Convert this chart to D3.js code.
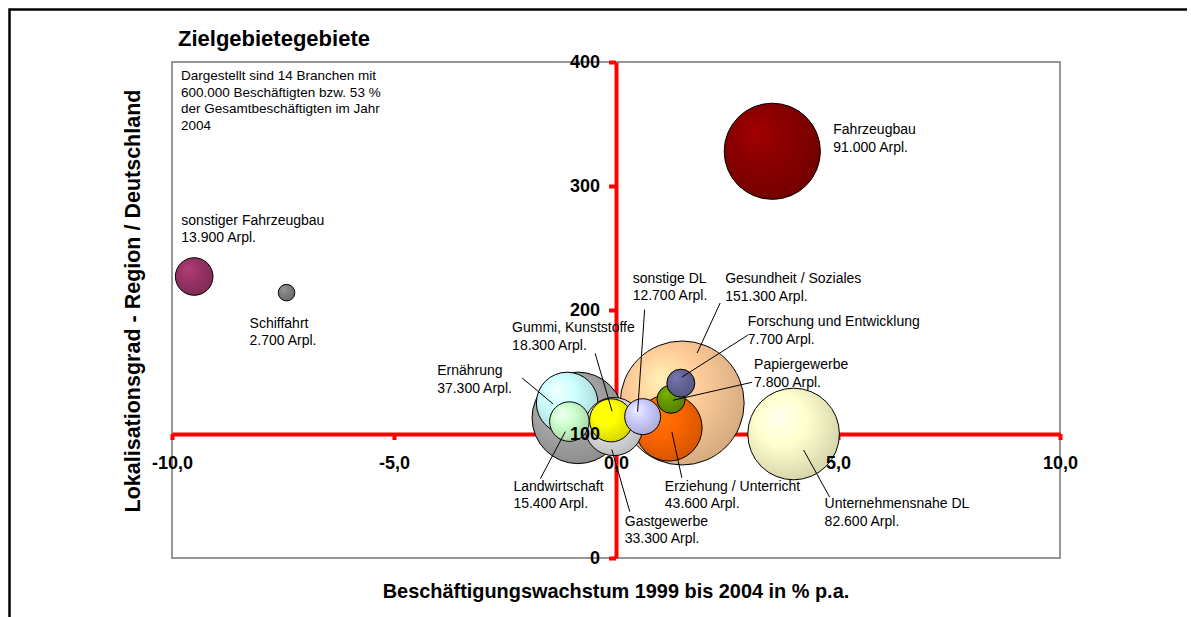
<!DOCTYPE html>
<html>
<head>
<meta charset="utf-8">
<script src="https://cdn.jsdelivr.net/npm/d3@7"></script>
<style>
  body { margin: 0; background: #fff; }
  svg { display: block; font-family: "Liberation Sans", Arial, sans-serif; }
</style>
</head>
<body>
<div id="chart"></div>
<script>
// Bubble chart - Zielgebiete

// data: 14 Branchen
var branchen = ["Fahrzeugbau", "sonstiger Fahrzeugbau", "Schiffahrt", "sonstige DL", "Gesundheit / Soziales",
  "Forschung und Entwicklung", "Papiergewerbe", "Gummi, Kunststoffe", "Ernährung", "Erziehung / Unterricht",
  "Unternehmensnahe DL", "Landwirtschaft", "Gastgewerbe", ""];
var wachstum = [3.52, -9.50, -7.42, 0.60, 1.49, 1.46, 1.24, -0.11, -1.10, 1.19, 4.00, -1.05, -0.05, -0.86];
var lokalisation = [328, 227, 214, 114, 125, 141, 128, 111, 125, 105, 100, 110, 106, 113];
var arbeitsplaetze = [91000, 13900, 2700, 12700, 151300, 7700, 7800, 18300, 37300, 43600, 82600, 15400, 33300, 82400];

var xTicks = [-10, -5, 0, 5, 10];
var yTicks = [0, 100, 200, 300, 400];

var titel = "Zielgebietegebiete";
var hinweis = ["Dargestellt sind 14 Branchen mit", "600.000 Beschäftigten bzw. 53 %", "der Gesamtbeschäftigten im Jahr", "2004"];
var xTitel = "Beschäftigungswachstum 1999 bis 2004 in % p.a.";
var yTitel = "Lokalisationsgrad - Region / Deutschland";

// colours, same order as branchen
var farben = ["#8b0000", "#993366", "#808080", "#ccccff", "#ffcc99", "#666699", "#669900", "#ffff00",
  "#ccffff", "#ff6600", "#ffffcc", "#ccffcc", "#e2e2e2", "#a8a8a8"];

// label placement, offsets in px from the bubble centre (text, leader start, leader end)
var labelLayout = {
  "Fahrzeugbau": { dx: 61, dy: -17 },
  "sonstiger Fahrzeugbau": { dx: -13, dy: -52 },
  "Schiffahrt": { dx: -37, dy: 35 },
  "sonstige DL": { dx: -10, dy: -134, line: [2, -107, -5, -5] },
  "Gesundheit / Soziales": { dx: 43, dy: -120, line: [38, -100, 15, -50] },
  "Forschung und Entwicklung": { dx: 67, dy: -57, line: [67, -48, 1, -6] },
  "Papiergewerbe": { dx: 83, dy: -30, line: [81, -17, 2, 1] },
  "Gummi, Kunststoffe": { dx: -99, dy: -88, line: [-16, -67, 1, -9] },
  "Ernährung": { dx: -130, dy: -28, line: [-45, -25, -14, 1] },
  "Erziehung / Unterricht": { dx: -4, dy: 63, line: [13, 50, 3, 4] },
  "Unternehmensnahe DL": { dx: 31, dy: 74, line: [36, 63, 10, 16] },
  "Landwirtschaft": { dx: -56, dy: 69, line: [-29, 57, -4, 10] },
  "Gastgewerbe": { dx: 11, dy: 99, line: [16, 85, -2, 23] }
};

var width = 1191;
var height = 617;
var plot = { left: 172, right: 1060, top: 62, bottom: 558 };

var de = d3.formatLocale({ decimal: ",", thousands: ".", grouping: [3], currency: ["", " €"], minus: "-" });
var fmtTick = de.format(".1f");
var fmtArpl = de.format(",d");

var data = branchen.map(function(name, i) {
  return { name: name, x: wachstum[i], y: lokalisation[i], size: arbeitsplaetze[i], color: farben[i], i: i };
});

var svg = d3.select("#chart")
  .append("svg")
    .attr("width", width)
    .attr("height", height);

// outer frame (top and left edge visible)
svg.append("path")
  .attr("d", "M9.5,640 V9.5 H1187")
  .attr("fill", "none")
  .attr("stroke", "#000")
  .attr("stroke-width", 2.5);

var x = d3.scaleLinear().domain([-10, 10]).range([plot.left, plot.right]);
var y = d3.scaleLinear().domain([0, 400]).range([plot.bottom, plot.top]);
var r = d3.scaleSqrt().domain([0, 151300]).range([0, 62]);

// plot area border
svg.append("rect")
  .attr("x", plot.left)
  .attr("y", plot.top)
  .attr("width", plot.right - plot.left)
  .attr("height", plot.bottom - plot.top)
  .attr("fill", "#fff")
  .attr("stroke", "#8c8c8c")
  .attr("stroke-width", 1.8);

// gradients for the 3d bubbles
var defs = svg.append("defs");
data.forEach(function(d) {
  var c = d3.color(d.color);
  var g = defs.append("radialGradient")
    .attr("id", "grad" + d.i)
    .attr("cx", "42%").attr("cy", "40%").attr("r", "62%")
    .attr("fx", "32%").attr("fy", "30%");
  g.append("stop").attr("offset", "0%").attr("stop-color", c.brighter(0.45));
  g.append("stop").attr("offset", "45%").attr("stop-color", c);
  g.append("stop").attr("offset", "100%").attr("stop-color", c.darker(0.5));
});

// axes, lines only (behind the bubbles)
var xAxis = d3.axisBottom(x).tickValues(xTicks).tickSize(6).tickSizeOuter(0).tickPadding(16).tickFormat(fmtTick);
var yAxis = d3.axisLeft(y).tickValues(yTicks).tickSize(7).tickSizeOuter(0).tickPadding(9).tickFormat(d3.format("d"));

function styleAxisLines(g) {
  g.select(".domain").attr("stroke", "#ff0000").attr("stroke-width", 4);
  g.selectAll(".tick line").attr("stroke", "#ff0000").attr("stroke-width", 4);
  g.selectAll(".tick text").remove();
}

svg.append("g")
  .attr("transform", "translate(0," + y(100) + ")")
  .call(xAxis)
  .call(styleAxisLines);

svg.append("g")
  .attr("transform", "translate(" + x(0) + ",0)")
  .call(yAxis)
  .call(styleAxisLines);

// bubbles, biggest first so small ones stay on top
var sorted = data.slice().sort(function(a, b) { return b.size - a.size; });

svg.append("g")
  .selectAll("circle")
  .data(sorted)
  .enter()
  .append("circle")
    .attr("cx", function(d) { return x(d.x); })
    .attr("cy", function(d) { return y(d.y); })
    .attr("r", function(d) { return r(d.size); })
    .attr("fill", function(d) { return "url(#grad" + d.i + ")"; })
    .attr("stroke", "#000")
    .attr("stroke-width", 1);

// tick labels on top
function styleAxisText(g) {
  g.select(".domain").remove();
  g.selectAll(".tick line").remove();
  g.selectAll(".tick text")
    .attr("fill", "#000")
    .style("font-family", "'Liberation Sans', Arial, sans-serif")
    .style("font-size", "18px")
    .style("font-weight", "bold");
}

svg.append("g")
  .attr("transform", "translate(0," + y(100) + ")")
  .call(xAxis)
  .call(styleAxisText);

svg.append("g")
  .attr("transform", "translate(" + x(0) + ",0)")
  .call(yAxis)
  .call(styleAxisText);

// leader lines + labels
var labelled = data.filter(function(d) { return d.name !== ""; });

svg.append("g")
  .selectAll("line")
  .data(labelled.filter(function(d) { return labelLayout[d.name].line; }))
  .enter()
  .append("line")
    .attr("x1", function(d) { return x(d.x) + labelLayout[d.name].line[0]; })
    .attr("y1", function(d) { return y(d.y) + labelLayout[d.name].line[1]; })
    .attr("x2", function(d) { return x(d.x) + labelLayout[d.name].line[2]; })
    .attr("y2", function(d) { return y(d.y) + labelLayout[d.name].line[3]; })
    .attr("stroke", "#000")
    .attr("stroke-width", 1);

var labels = svg.append("g")
  .selectAll("text")
  .data(labelled)
  .enter()
  .append("text")
    .attr("x", function(d) { return x(d.x) + labelLayout[d.name].dx; })
    .attr("y", function(d) { return y(d.y) + labelLayout[d.name].dy; })
    .style("font-size", "14px")
    .attr("fill", "#000");

labels.append("tspan")
  .text(function(d) { return d.name; });
labels.append("tspan")
  .attr("x", function(d) { return x(d.x) + labelLayout[d.name].dx; })
  .attr("dy", 17.5)
  .text(function(d) { return fmtArpl(d.size) + " Arpl."; });

// title + note
svg.append("text")
  .attr("x", 178)
  .attr("y", 46)
  .style("font-size", "22px")
  .style("font-weight", "bold")
  .text(titel);

svg.append("g")
  .selectAll("text")
  .data(hinweis)
  .enter()
  .append("text")
    .attr("x", 181)
    .attr("y", function(d, i) { return 80 + i * 16.7; })
    .style("font-size", "13.5px")
    .text(function(d) { return d; });

// axis titles
svg.append("text")
  .attr("x", (plot.left + plot.right) / 2)
  .attr("y", 598)
  .attr("text-anchor", "middle")
  .style("font-size", "19.9px")
  .style("font-weight", "bold")
  .text(xTitel);

svg.append("text")
  .attr("transform", "translate(140," + 301 + ") rotate(-90)")
  .attr("text-anchor", "middle")
  .style("font-size", "21.5px")
  .style("font-weight", "bold")
  .text(yTitel);
</script>
</body>
</html>
